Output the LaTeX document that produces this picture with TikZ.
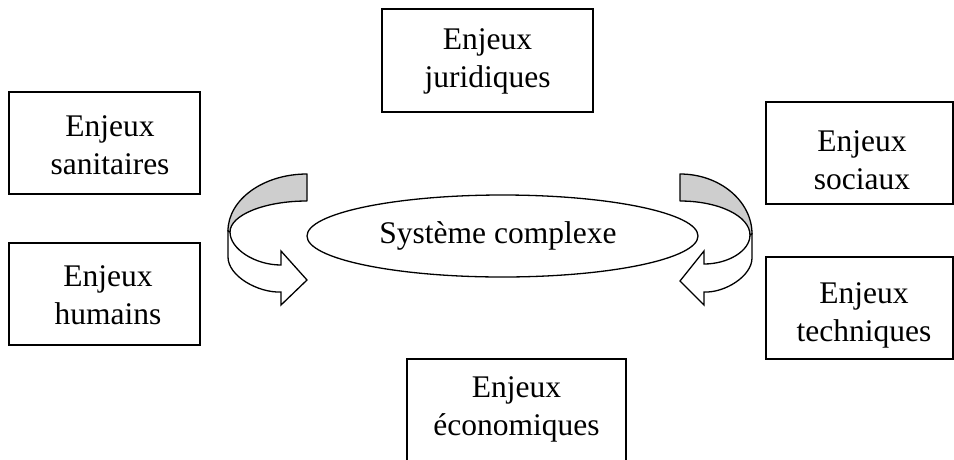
\documentclass[tikz,border=0pt]{standalone}
\usepackage{fontspec}
\setmainfont{Liberation Serif}
\usetikzlibrary{shapes.geometric}
\definecolor{bandgray}{RGB}{206,206,206}
\begin{document}
\begin{tikzpicture}[x=1pt,y=-1pt,
  every node/.style={font=\fontsize{31.5}{38}\selectfont},
  framebox/.style={draw, line width=1.3pt, rectangle, inner sep=0pt},
  caption/.style={align=center, inner sep=0pt},
  band/.style={draw, fill=bandgray, line width=1.3pt, line join=round},
  sweep/.style={draw, fill=white, line width=1.3pt, line join=miter}]
\useasboundingbox (0,0) rectangle (954,459);
\clip (0,0) rectangle (954,459);

% frames of the six stakes
\node[framebox, minimum width=211pt, minimum height=103pt] (jur) at (487.5,60.5) {};
\node[framebox, minimum width=191pt, minimum height=102pt] (san) at (104.5,143) {};
\node[framebox, minimum width=191pt, minimum height=102pt] (hum) at (104.5,294) {};
\node[framebox, minimum width=187pt, minimum height=102pt] (soc) at (859.5,153) {};
\node[framebox, minimum width=187pt, minimum height=102pt] (tec) at (859.5,308) {};
\node[framebox, minimum width=219pt, minimum height=102pt] (eco) at (516.5,410) {};

% their captions
\node[caption] (jur-t) at (487.5,61) {Enjeux\\juridiques};
\node[caption] (san-t) at (110,145.5) {Enjeux\\sanitaires};
\node[caption] (hum-t) at (108,295.5) {Enjeux\\humains};
\node[caption] (soc-t) at (862,160.5) {Enjeux\\sociaux};
\node[caption] (tec-t) at (864,315) {Enjeux\\techniques};
\node[caption] (eco-t) at (516.5,409.5) {Enjeux\\économiques};

% central system
\node[draw, ellipse, line width=1.3pt, fill=white, minimum width=391pt,
      minimum height=82pt, inner sep=0pt] (core) at (502.5,236) {};
\node[caption] (core-t) at (498,236) {Système complexe};

% left curved arrow: shaded back face, then white front with head
\path[band] (307,174) .. controls (263.4,174) and (228,199.5) .. (228,231)
  -- (230,232) .. controls (230,215) and (264.5,201) .. (307,201) -- cycle;
\path[sweep] (230,232) .. controls (230,249) and (255,265) .. (281,265)
  -- (281,251) -- (307,280) -- (281,305) -- (281,292)
  .. controls (258,293) and (228,276) .. (228,257) -- (228,231) -- cycle;

% right curved arrow
\path[band] (680,174) .. controls (719.7,174) and (752,201) .. (752,234)
  -- (750,235) .. controls (750,216) and (718.6,201) .. (680,201) -- cycle;
\path[sweep] (750,235) .. controls (750,251) and (728,264) .. (704,264)
  -- (704,251) -- (680,281) -- (704,305) -- (704,292)
  .. controls (725,293) and (752,276) .. (752,258) -- (752,234) -- cycle;
\end{tikzpicture}
\end{document}
